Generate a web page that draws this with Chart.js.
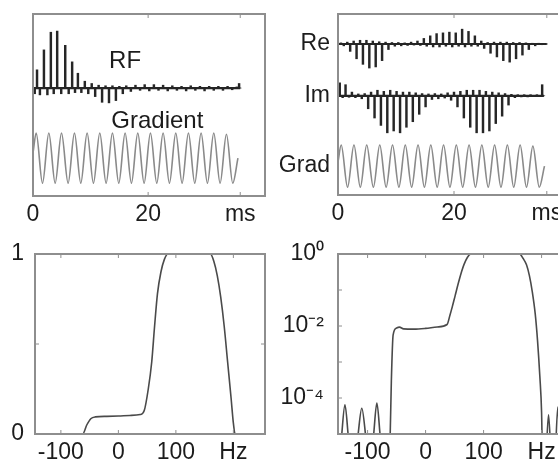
<!DOCTYPE html>
<html>
<head>
<meta charset="utf-8">
<script src="https://cdn.jsdelivr.net/npm/chart.js@4/dist/chart.umd.min.js"></script>
<style>
  html, body { margin: 0; padding: 0; background: #fff; width: 558px; height: 468px; overflow: hidden; position: relative; }
  canvas { position: absolute; }
</style>
</head>
<body>
<canvas id="rfChart" width="280" height="236" style="left:0px;top:0px"></canvas>
<canvas id="reimChart" width="302" height="235" style="left:278px;top:0px"></canvas>
<canvas id="linChart" width="280" height="234" style="left:0px;top:234px"></canvas>
<canvas id="logChart" width="302" height="234" style="left:278px;top:234px"></canvas>
<script>
// time axis (ms) for the two top panels
const msTicks = [0, 20, 36];
const msLabels = ["0", "20", "ms"];

// RF pulse, normalised: [ms, amplitude]
const rfPulse = [[0,0],[0.3,-0.1],[0.7,0.32],[1.2,-0.12],[1.9,0.67],[2.5,-0.12],[3.1,0.98],[3.6,-0.1],
  [4.2,1.0],[4.9,-0.1],[5.6,0.75],[6.2,-0.1],[6.8,0.46],[7.3,-0.08],[7.8,0.26],[8.4,-0.08],[9.0,0.12],
  [9.6,-0.1],[10.2,0.08],[10.8,-0.15],[11.4,0.05],[12.0,-0.25],[12.6,0.04],[13.2,-0.26],[13.8,0.04],
  [14.4,-0.22],[15.0,0.03],[15.6,-0.1],[16.2,0.04],[17.0,-0.06],[17.8,0.05],[18.6,-0.04],[19.4,0.06],
  [20.2,-0.05],[21.0,0.06],[21.8,-0.04],[22.6,0.05],[23.4,-0.05],[24.2,0.04],[25.0,-0.04],[25.8,0.03],
  [26.6,-0.05],[27.4,0.04],[28.2,-0.04],[29.0,0.03],[29.8,-0.05],[30.6,0.03],[31.4,-0.04],[32.2,0.03],
  [33.0,-0.04],[33.8,0.03],[34.6,-0.03],[35.4,0.02],[35.8,0.08],[36.0,0]];

// gradient waveform (same in both top panels): [ms, normalised]
const gradWave = [[0,0.2],[0.55,1],[1.65,-1],[2.75,1],[3.85,-1],[4.95,1],[6.1,-1],[7.2,1],[8.3,-1],
  [9.4,1],[10.5,-1],[11.6,1],[12.7,-1],[13.8,1],[14.9,-1],[16.0,1],[17.1,-1],[18.2,1],[19.3,-1],
  [20.4,1],[21.5,-1],[22.6,1],[23.7,-1],[24.8,1],[25.9,-1],[27.0,1],[28.1,-1],[29.2,1],[30.3,-1],
  [31.4,1],[32.5,-1],[33.6,0.95],[34.7,-1],[35.6,0]];

// real and imaginary parts of the second pulse: [ms, amplitude]
const rePart = [[0,0],[0.5,0.03],[1.0,-0.05],[1.6,0.05],[2.1,-0.2],[2.7,0.08],[3.2,-0.4],[3.8,0.1],
  [4.3,-0.55],[4.9,0.1],[5.4,-0.65],[6.0,0.08],[6.5,-0.62],[7.1,0.06],[7.6,-0.45],[8.2,0.05],[8.7,-0.15],
  [9.3,0.04],[9.8,-0.06],[10.4,0.04],[10.9,-0.05],[11.5,0.03],[12.0,-0.04],[12.6,0.05],[13.1,-0.03],
  [13.7,0.08],[14.2,-0.04],[14.8,0.15],[15.3,-0.06],[15.9,0.22],[16.4,-0.08],[17.0,0.28],[17.5,-0.08],
  [18.1,0.3],[18.6,-0.06],[19.2,0.32],[19.7,-0.08],[20.3,0.3],[20.8,-0.06],[21.4,0.4],[21.9,-0.08],
  [22.5,0.34],[23.0,-0.06],[23.6,0.22],[24.1,-0.06],[24.7,0.08],[25.2,-0.12],[25.8,0.04],[26.3,-0.25],
  [26.9,0.05],[27.4,-0.35],[28.0,0.05],[28.5,-0.45],[29.1,0.05],[29.6,-0.49],[30.2,0.04],[30.7,-0.4],
  [31.3,0.04],[31.8,-0.3],[32.4,0.03],[32.9,-0.15],[33.5,0.02],[34.0,-0.05],[34.6,0.02],[35.2,-0.02],[36.0,0]];
const imPart = [[0,0.1],[0.3,0.35],[0.8,-0.05],[1.3,0.3],[1.9,-0.04],[2.4,0.1],[3.0,-0.05],[3.5,0.05],
  [4.1,-0.08],[4.6,0.06],[5.2,-0.35],[5.7,0.1],[6.3,-0.6],[6.8,0.15],[7.4,-0.8],[7.9,0.12],[8.5,-1.0],
  [9.0,0.15],[9.6,-0.95],[10.1,0.12],[10.7,-1.0],[11.2,0.1],[11.8,-0.85],[12.3,0.1],[12.9,-0.7],
  [13.4,0.08],[14.0,-0.5],[14.5,0.06],[15.1,-0.3],[15.6,0.05],[16.2,-0.1],[16.7,0.06],[17.3,-0.08],
  [17.8,0.05],[18.4,-0.06],[18.9,0.08],[19.5,-0.12],[20.0,0.1],[20.6,-0.3],[21.1,0.12],[21.7,-0.6],
  [22.2,0.15],[22.8,-0.85],[23.3,0.15],[23.9,-1.0],[24.4,0.15],[25.0,-1.0],[25.5,0.12],[26.1,-0.95],
  [26.6,0.1],[27.2,-0.75],[27.7,0.08],[28.3,-0.55],[28.8,0.06],[29.4,-0.25],[29.9,0.04],[30.5,-0.05],
  [31.0,0.03],[31.6,-0.03],[32.1,0.03],[32.7,-0.03],[33.2,0.03],[33.8,-0.02],[34.3,0.03],[34.9,-0.02],
  [35.2,0.3],[35.5,0]];
const traceNames = ["Re", "Im", "Grad"];

// frequency axis (Hz) for the two bottom panels
const hzTicks = [-100, 0, 100, 200];
const hzLabels = ["-100", "0", "100", "Hz"];

// slice profile, linear: [Hz, magnitude]
const linProfile = [[-145,0],[-62,0],[-55,0.05],[-48,0.085],[-40,0.095],[-20,0.098],[0,0.1],[20,0.103],
  [38,0.108],[45,0.13],[52,0.25],[58,0.4],[63,0.6],[68,0.78],[74,0.9],[80,0.97],[86,1],[160,1],
  [166,0.96],[172,0.88],[178,0.76],[184,0.6],[190,0.4],[196,0.2],[200,0.06],[203,0],[255,0]];
const linTicks = [0, 0.5, 1];
const linLabels = ["0", "", "1"];

// slice profile, log: [Hz, magnitude]
const logProfile = [[-150,1e-6],[-145,8e-6],[-139,6.5e-5],[-133,8e-6],[-125,1e-6],[-117,8e-6],[-110,5.2e-5],
  [-103,8e-6],[-97,1e-6],[-90,8e-6],[-84,7.2e-5],[-78,8e-6],[-71,1e-6],[-64,1e-6],[-61,1e-5],[-59,3e-4],
  [-56,5.6e-3],[-50,8.8e-3],[-45,9.3e-3],[-38,8.3e-3],[-20,8.2e-3],[0,8.6e-3],[20,9.4e-3],[37,1.1e-2],
  [42,2e-2],[46,3.4e-2],[51,7e-2],[57,0.166],[62,0.32],[66,0.5],[72,0.8],[78,1],[162,1],[168,0.76],
  [174,0.5],[179,0.25],[184,0.089],[189,0.022],[193,4e-3],[197,4e-4],[200,4e-5],[202,1e-6],[206,1e-6],
  [212,3.4e-5],[218,1e-6],[222,1e-6],[228,5.6e-5],[234,1e-6],[250,1e-6]];
const logTicks = [1, 1e-1, 1e-2, 1e-3, 1e-4, 1e-5];
const logLabels = ["10\u2070", "", "10\u207b\u00b2", "", "10\u207b\u2074", ""];

Chart.defaults.font.family = "'Liberation Sans', Arial, sans-serif";
Chart.defaults.font.size = 23;
Chart.defaults.color = "#1c1c1c";

const frameColor = "#8e8e8e";
const inkColor = "#262626";
const gradColor = "#8a8a8a";

// box round the plot area, inward tick marks and in-plot labels
const framePlugin = {
  id: "frame",
  afterDatasetsDraw(chart, args, opts) {
    const { ctx, chartArea: a, scales } = chart;
    ctx.save();
    ctx.strokeStyle = frameColor;
    ctx.lineWidth = 1;
    ctx.beginPath();
    scales.x.ticks.forEach(t => {
      const px = scales.x.getPixelForValue(t.value);
      ctx.moveTo(px, a.top); ctx.lineTo(px, a.top + 4);
      ctx.moveTo(px, a.bottom); ctx.lineTo(px, a.bottom - 4);
    });
    if (opts.yTicks) {
      scales.y.ticks.forEach(t => {
        const py = scales.y.getPixelForValue(t.value);
        ctx.moveTo(a.left, py); ctx.lineTo(a.left + 4, py);
        ctx.moveTo(a.right, py); ctx.lineTo(a.right - 4, py);
      });
    }
    ctx.stroke();
    ctx.lineWidth = 2;
    ctx.strokeRect(a.left, a.top, a.right - a.left, a.bottom - a.top);
    if (opts.notes) {
      ctx.fillStyle = "#1c1c1c";
      ctx.font = "24px 'Liberation Sans', Arial, sans-serif";
      ctx.textAlign = "center";
      ctx.textBaseline = "middle";
      opts.notes.text.forEach((s, i) => {
        ctx.fillText(s, scales.x.getPixelForValue(opts.notes.x[i]), scales.y.getPixelForValue(opts.notes.y[i]));
      });
    }
    ctx.restore();
  }
};

function xAxis(min, max, ticks, labels, h) {
  return {
    type: "linear", min: min, max: max, offset: false,
    grid: { display: false, drawTicks: false }, border: { display: false },
    afterBuildTicks: s => { s.ticks = ticks.map(v => ({ value: v })); },
    ticks: { padding: 5, autoSkip: false, maxRotation: 0, callback: (v, i) => labels[i] },
    afterFit: s => { s.height = h; s.paddingLeft = 0; s.paddingRight = 0; }
  };
}

function yAxis(extra, w) {
  return Object.assign({
    grid: { display: false, drawTicks: false }, border: { display: false },
    afterFit: s => { s.width = w; s.paddingTop = 0; s.paddingBottom = 0; }
  }, extra);
}

function lineSet(points, color, width, smooth) {
  return {
    type: "line", data: points, borderColor: color, borderWidth: width, pointRadius: 0,
    tension: 0, cubicInterpolationMode: smooth ? "monotone" : "default"
  };
}

// each sample of an RF waveform drawn as a thin stroke off its baseline
function spikeSet(points, base, gain) {
  return {
    type: "bar", grouped: false, barThickness: 1.8, backgroundColor: inkColor, borderWidth: 0,
    data: points.map(p => ({ x: p[0], y: [base, base + gain * p[1]] }))
  };
}

function baseLine(points, base) {
  return lineSet(points.map(p => ({ x: p[0], y: base })), inkColor, 2.2, false);
}

const baseOptions = (pad) => ({
  responsive: false, animation: false,
  layout: { padding: pad },
  plugins: { legend: { display: false }, tooltip: { enabled: false } }
});

// top left: RF pulse and gradient
let opts = baseOptions({ top: 14, right: 15, left: 0, bottom: 0 });
opts.plugins.frame = { yTicks: false, notes: { text: ["RF", "Gradient"], x: [16, 21.6], y: [0.46, -0.58] } };
opts.scales = {
  x: xAxis(0, 40.3, msTicks, msLabels, 40),
  y: yAxis({ min: -1.895, max: 1.30, ticks: { display: false } }, 33)
};
new Chart("rfChart", {
  type: "line",
  data: { datasets: [
    spikeSet(rfPulse, 0, 1),
    baseLine(rfPulse, 0),
    lineSet(gradWave.map(p => ({ x: p[0], y: -1.23 + 0.44 * p[1] })), gradColor, 1.6, true)
  ] },
  options: opts,
  plugins: [framePlugin]
});

// top right: Re, Im and gradient
const traceOffsets = [4.08, 2.68, 0.78];
opts = baseOptions({ top: 14, right: 10, left: 0, bottom: 0 });
opts.plugins.frame = { yTicks: false };
opts.scales = {
  x: xAxis(0, 40, msTicks, msLabels, 40),
  y: yAxis({
    min: 0, max: 4.89,
    afterBuildTicks: s => { s.ticks = traceOffsets.map(v => ({ value: v })); },
    ticks: { padding: 8, callback: (v, i) => traceNames[i] }
  }, 60)
};
new Chart("reimChart", {
  type: "line",
  data: { datasets: [
    spikeSet(rePart, traceOffsets[0], 1),
    baseLine(rePart, traceOffsets[0]),
    spikeSet(imPart, traceOffsets[1], 1),
    baseLine(imPart, traceOffsets[1]),
    lineSet(gradWave.map(p => ({ x: p[0], y: traceOffsets[2] + 0.57 * p[1] })), gradColor, 1.6, true)
  ] },
  options: opts,
  plugins: [framePlugin]
});

// bottom left: linear profile
opts = baseOptions({ top: 20, right: 15, left: 0, bottom: 0 });
opts.plugins.frame = { yTicks: true };
opts.scales = {
  x: xAxis(-145, 255, hzTicks, hzLabels, 34),
  y: yAxis({
    min: 0, max: 1,
    afterBuildTicks: s => { s.ticks = linTicks.map(v => ({ value: v })); },
    ticks: { padding: 11, callback: (v, i) => linLabels[i] }
  }, 35)
};
new Chart("linChart", {
  type: "line",
  data: { datasets: [ lineSet(linProfile.map(p => ({ x: p[0], y: p[1] })), "#4a4a4a", 1.6, true) ] },
  options: opts,
  plugins: [framePlugin]
});

// bottom right: log profile
opts = baseOptions({ top: 20, right: 10, left: 0, bottom: 0 });
opts.plugins.frame = { yTicks: true };
opts.scales = {
  x: xAxis(-151, 249, hzTicks, hzLabels, 34),
  y: yAxis({
    type: "logarithmic", min: 1e-5, max: 1,
    afterBuildTicks: s => { s.ticks = logTicks.map(v => ({ value: v })); },
    ticks: { padding: 14, callback: (v, i) => logLabels[i] }
  }, 60)
};
new Chart("logChart", {
  type: "line",
  data: { datasets: [ lineSet(logProfile.map(p => ({ x: p[0], y: p[1] })), "#4a4a4a", 1.6, true) ] },
  options: opts,
  plugins: [framePlugin]
});
</script>
</body>
</html>
